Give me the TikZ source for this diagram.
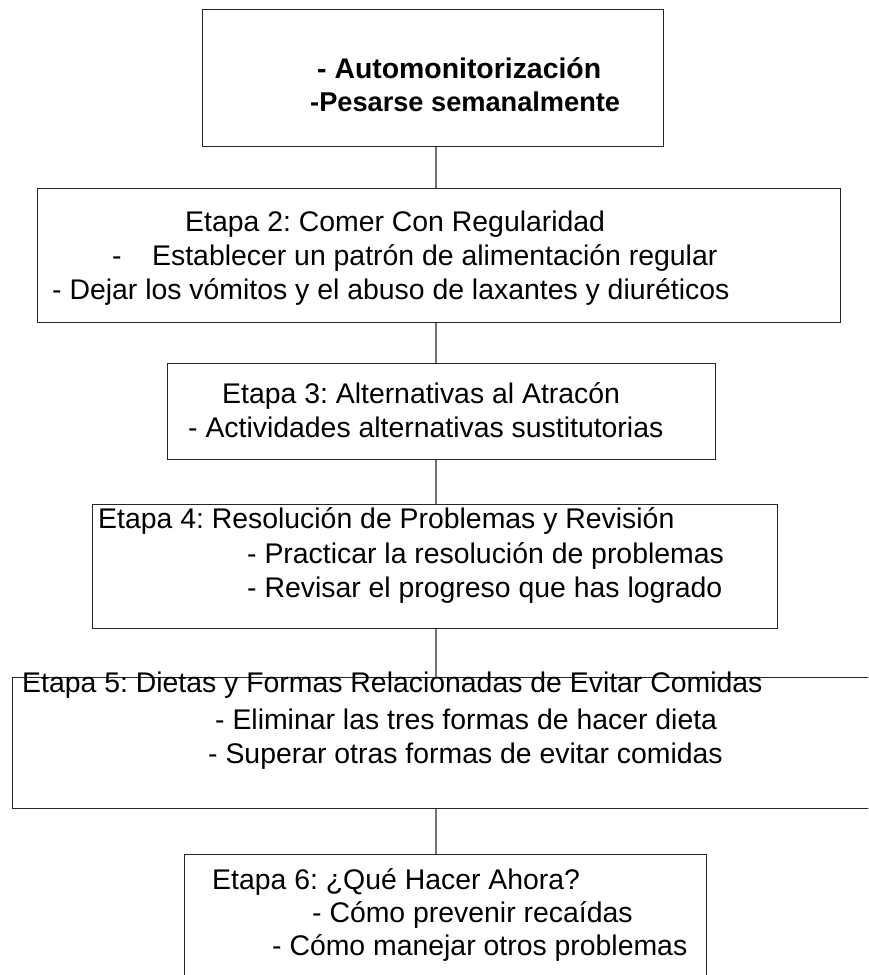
\documentclass[tikz,border=0pt]{standalone}
\usepackage{fontspec}
\setmainfont{Liberation Sans}
\usepackage{tikz}
\frenchspacing

\begin{document}
\begin{tikzpicture}[x=1pt,y=-1pt,
    etapa/.style={draw=black!85,line width=1.2pt,rectangle,anchor=north west,inner sep=0pt},
    linea/.style={anchor=base west,inner sep=0pt,font=\fontsize{28.4}{34}\selectfont},
    enlace/.style={draw=black!55,line width=1.2pt}]
      \useasboundingbox (0,0) rectangle (868,975);
      \clip (0,0) rectangle (868,975);
      \coordinate (eje) at (436,0);

      \node[etapa,minimum width=461pt,minimum height=137pt] (s1) at (202,9) {};
      \node[etapa,minimum width=803pt,minimum height=134pt] (s2) at (37,188) {};
      \node[etapa,minimum width=548pt,minimum height=96pt] (s3) at (167,363) {};
      \node[etapa,minimum width=685pt,minimum height=124pt] (s4) at (92,504) {};
      \node[etapa,minimum width=900pt,minimum height=131pt] (s5) at (12,677) {};
      \node[etapa,minimum width=522pt,minimum height=160pt] (s6) at (184,854) {};

      \node[linea,font=\fontsize{28.4}{34}\selectfont\bfseries] (a1) at (317,78) {- Automonitorización};
      \node[linea,font=\fontsize{27.2}{34}\selectfont\bfseries] (a2) at (310,111) {-Pesarse semanalmente};

      \node[linea] (b1) at (185,231) {Etapa 2: Comer Con Regularidad};
      \node[linea] (b2) at (112,265) {-};
      \node[linea] (b3) at (152,265) {Establecer un patrón de alimentación regular};
      \node[linea] (b4) at (52,299) {- Dejar los vómitos y el abuso de laxantes y diuréticos};

      \node[linea] (c1) at (222,403) {Etapa 3: Alternativas al Atracón};
      \node[linea] (c2) at (188,437) {- Actividades alternativas sustitutorias};

      \node[linea] (d1) at (98,528) {Etapa 4: Resolución de Problemas y Revisión};
      \node[linea] (d2) at (247,563) {- Practicar la resolución de problemas};
      \node[linea] (d3) at (247,597) {- Revisar el progreso que has logrado};

      \node[linea] (e1) at (22,692) {Etapa 5: Dietas y Formas Relacionadas de Evitar Comidas};
      \node[linea] (e2) at (215,729) {- Eliminar las tres formas de hacer dieta};
      \node[linea] (e3) at (208,763) {- Superar otras formas de evitar comidas};

      \node[linea] (f1) at (212,889) {Etapa 6: ¿Qué Hacer Ahora?};
      \node[linea] (f2) at (312,922) {- Cómo prevenir recaídas};
      \node[linea] (f3) at (272,955) {- Cómo manejar otros problemas};

      \path[enlace]
      (s1.south -| eje) -- (s2.north -| eje)
      (s2.south -| eje) -- (s3.north -| eje)
      (s3.south -| eje) -- (s4.north -| eje)
      (s4.south -| eje) -- (s5.north -| eje)
      (s5.south -| eje) -- (s6.north -| eje)
      ;
    \end{tikzpicture}
\end{document}
